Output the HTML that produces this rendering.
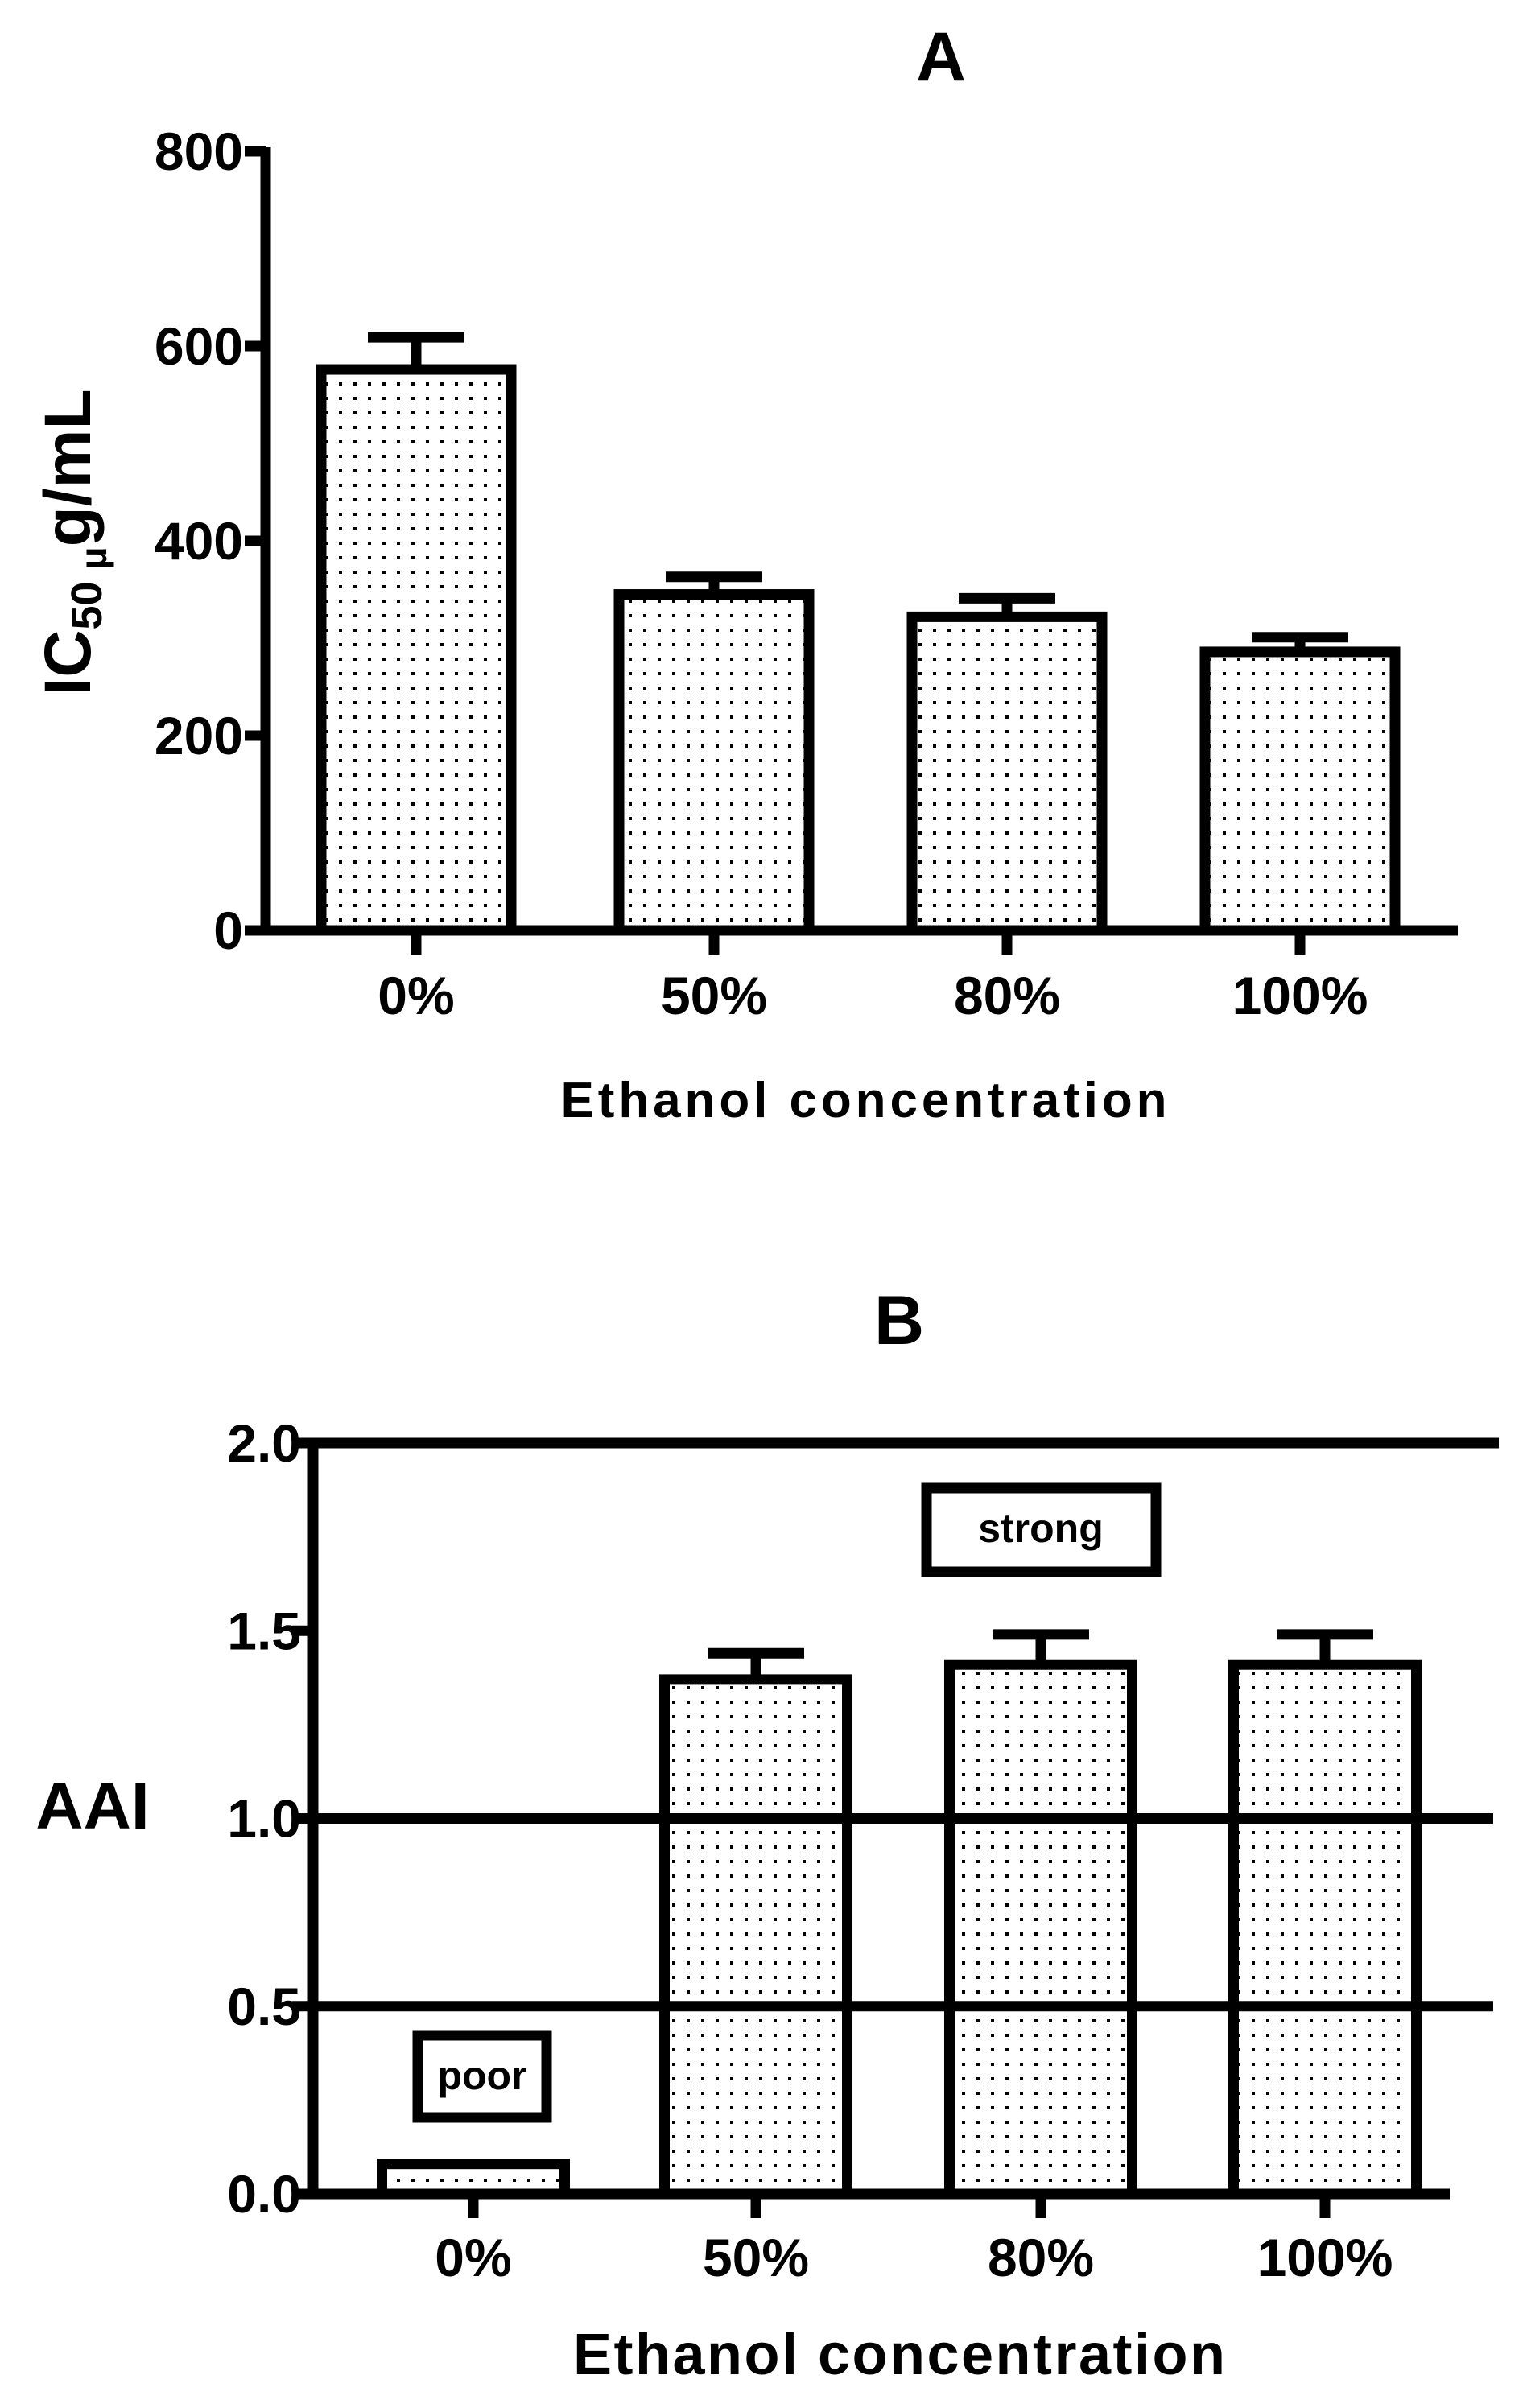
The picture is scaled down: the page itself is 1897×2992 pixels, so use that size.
<!DOCTYPE html>
<html><head><meta charset="utf-8"><style>
html,body{margin:0;padding:0;background:#fff}
svg{display:block;font-family:"Liberation Sans Narrow","Liberation Sans",sans-serif;font-weight:bold}
</style></head><body>
<svg id="fig" width="1897" height="2992" viewBox="0 0 1897 2992" xmlns="http://www.w3.org/2000/svg">
<defs>
<pattern id="dots" width="18" height="18" patternUnits="userSpaceOnUse">
<rect width="18" height="18" fill="#fff"/><rect x="7" y="7" width="4" height="4" fill="#000"/>
</pattern>
</defs>
<g id="chartA"></g>
<g id="chartB"></g>
</svg>
<script>
const catsA = ["0%","50%","80%","100%"];
const valsA = [576, 345, 322, 286];
const errA = [609, 363, 341, 301];
const ticksA = [0,200,400,600,800];
const catsB = ["0%","50%","80%","100%"];
const valsB = [0.08, 1.37, 1.41, 1.41];
const errB = [0.08, 1.44, 1.49, 1.49];
const ticksB = ["0.0","0.5","1.0","1.5","2.0"];
const refLinesB = [0.5, 1.0, 2.0];

const NS = "http://www.w3.org/2000/svg";
function mk(parent, tag, attrs, text){
  const e = document.createElementNS(NS, tag);
  for (const k in attrs) e.setAttribute(k, attrs[k]);
  if (text !== undefined) e.textContent = text;
  parent.appendChild(e);
  return e;
}
const SW = 13;

// Chart A
(function(){
  const g = document.getElementById('chartA');
  const ax = 330, y0 = 1156, yTop = 188, xEnd = 1811;
  const centers = [517, 887, 1251, 1615], bw = 249;
  const y = v => y0 - (v/800)*(y0-yTop);
  const t = mk(g,'text',{x:1169,y:100,'font-size':86,'text-anchor':'middle'},'A');
  
  
  catsA.forEach((c,i)=>{
    const cx = centers[i];
    const e = mk(g,'path',{d:`M${cx} ${y(valsA[i])} V${y(errA[i])} M${cx-60} ${y(errA[i])} H${cx+60}`,stroke:'#000','stroke-width':SW,fill:'none'});
    
    
    const b = mk(g,'rect',{x:cx-bw/2+SW/2,y:y(valsA[i]),width:bw-SW,height:y0-y(valsA[i]),fill:'url(#dots)',stroke:'#000','stroke-width':SW});
    
    
    const tk = mk(g,'line',{x1:cx,x2:cx,y1:y0,y2:y0+30,stroke:'#000','stroke-width':SW});
    
    
    const l = mk(g,'text',{x:cx,y:1260,'font-size':66,'text-anchor':'middle'},c);
    
    
  });
  ticksA.forEach(v=>{
    const tk = mk(g,'line',{x1:ax-26,x2:ax,y1:y(v),y2:y(v),stroke:'#000','stroke-width':SW});
    
    
    const l = mk(g,'text',{x:302,y:y(v)+23,'font-size':66,'text-anchor':'end'},String(v));
    
    
  });
  const axis = mk(g,'path',{d:`M${ax} ${yTop-5} V${y0} H${xEnd}`,stroke:'#000','stroke-width':SW,fill:'none'});
  
  
  const xt = mk(g,'text',{x:1073,y:1388,'font-size':62,'text-anchor':'middle',textLength:753},'Ethanol concentration');
  
  
  const yt = mk(g,'text',{transform:'translate(112,674) rotate(-90)','font-size':82,'text-anchor':'middle'});
  
  
  mk(yt,'tspan',{},'IC');
  mk(yt,'tspan',{'font-size':54,dy:14},'50 ');
  mk(yt,'tspan',{'font-size':46,dy:6},'μ');
  mk(yt,'tspan',{dy:-20},'g/mL');
})();

// Chart B
(function(){
  const g = document.getElementById('chartB');
  const ax = 389, y0 = 2726, yTop = 1793, xEnd = 1801;
  const centers = [588, 939, 1293, 1646], bw = 240;
  const y = v => y0 - (v/2)*(y0-yTop);
  const t = mk(g,'text',{x:1117,y:1670,'font-size':86,'text-anchor':'middle'},'B');
  
  
  catsB.forEach((c,i)=>{
    const cx = centers[i];
    if (errB[i] > valsB[i]) {
      const e = mk(g,'path',{d:`M${cx} ${y(valsB[i])} V${y(errB[i])} M${cx-60} ${y(errB[i])} H${cx+60}`,stroke:'#000','stroke-width':SW,fill:'none'});
      
      
    }
    const b = mk(g,'rect',{x:cx-bw/2+SW/2,y:y(valsB[i]),width:bw-SW,height:y0-y(valsB[i]),fill:'url(#dots)',stroke:'#000','stroke-width':SW});
    
    
    const tk = mk(g,'line',{x1:cx,x2:cx,y1:y0,y2:y0+30,stroke:'#000','stroke-width':SW});
    
    
    const l = mk(g,'text',{x:cx,y:2828,'font-size':66,'text-anchor':'middle'},c);
    
    
  });
  refLinesB.forEach(v=>{
    const l = mk(g,'line',{x1:ax,x2:v===2?1862:1855,y1:y(v),y2:y(v),stroke:'#000','stroke-width':SW});
    
    
  });
  ticksB.forEach(s=>{
    const v = parseFloat(s);
    const tk = mk(g,'line',{x1:ax-26,x2:ax,y1:y(v),y2:y(v),stroke:'#000','stroke-width':SW});
    
    
    const l = mk(g,'text',{x:374,y:y(v)+23,'font-size':66,'text-anchor':'end'},s);
    
    
  });
  const axis = mk(g,'path',{d:`M${ax} ${yTop} V${y0} H${xEnd}`,stroke:'#000','stroke-width':SW,fill:'none'});
  
  
  const sb = mk(g,'rect',{x:1151,y:1849,width:285,height:104,fill:'#fff',stroke:'#000','stroke-width':SW});
  
  
  const st = mk(g,'text',{x:1293,y:1916,'font-size':50,'text-anchor':'middle'},'strong');
  
  
  const pb = mk(g,'rect',{x:519,y:2529,width:160,height:102,fill:'#fff',stroke:'#000','stroke-width':SW});
  
  
  const pt = mk(g,'text',{x:599,y:2596,'font-size':50,'text-anchor':'middle'},'poor');
  
  
  const xt = mk(g,'text',{x:1117,y:2950,'font-size':72,'text-anchor':'middle',textLength:810},'Ethanol concentration');
  
  
  const yt = mk(g,'text',{x:115,y:2272,'font-size':82,'text-anchor':'middle'},'AAI');
  
  
})();
</script>
</body></html>
